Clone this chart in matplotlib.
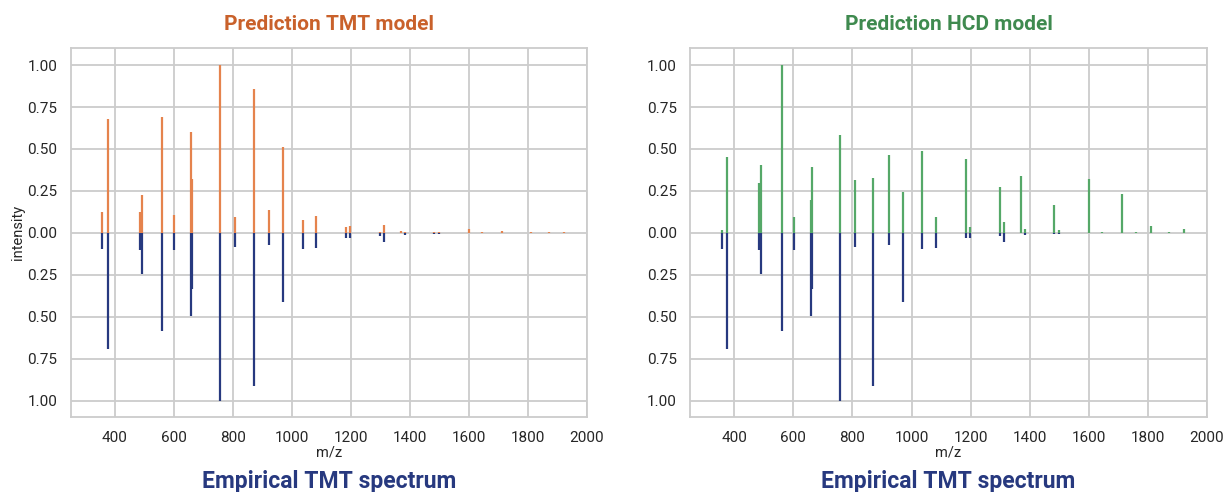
import numpy as np
import matplotlib
matplotlib.use('Agg')
import matplotlib.pyplot as plt
from matplotlib.ticker import FuncFormatter
import seaborn as sns

mz = [357, 375, 485, 490, 561, 601, 658, 662, 757, 808, 871, 923, 970, 1037, 1083,
      1184, 1198, 1298, 1312, 1369, 1383, 1483, 1498, 1599, 1645, 1711, 1760, 1810, 1873, 1923]

empirical = [0.097, 0.694, 0.100, 0.244, 0.587, 0.105, 0.498, 0.335, 1.000, 0.087, 0.913, 0.075, 0.410, 0.097, 0.093,
             0.030, 0.030, 0.020, 0.054, 0.000, 0.012, 0.008, 0.008, 0.000, 0.000, 0.000, 0.004, 0.000, 0.000, 0.000]

pred_tmt = [0.125, 0.677, 0.125, 0.228, 0.692, 0.107, 0.599, 0.321, 1.000, 0.097, 0.855, 0.135, 0.510, 0.075, 0.103,
            0.032, 0.040, 0.006, 0.046, 0.010, 0.004, 0.003, 0.003, 0.020, 0.003, 0.008, 0.000, 0.004, 0.003, 0.003]

pred_hcd = [0.016, 0.454, 0.296, 0.405, 1.000, 0.097, 0.196, 0.391, 0.585, 0.317, 0.329, 0.462, 0.242, 0.488, 0.093,
            0.438, 0.032, 0.274, 0.062, 0.341, 0.024, 0.163, 0.016, 0.323, 0.003, 0.234, 0.003, 0.038, 0.003, 0.024]

sns.set_style('whitegrid')
plt.rcParams['font.family'] = ['Roboto', 'DejaVu Sans']

navy = '#27397f'
panels = [
    ('Prediction TMT model', pred_tmt, '#e5834d', '#c9612b', [0.0578, 0.1518, 0.4216, 0.75]),
    ('Prediction HCD model', pred_hcd, '#55a868', '#3f8a4f', [0.5637, 0.1518, 0.4224, 0.75]),
]

fig = plt.figure(figsize=(12.24, 4.92), dpi=100)
mz_arr = np.array(mz)

for i, (title, pred, bar_col, title_col, pos) in enumerate(panels):
    ax = fig.add_axes(pos)
    # predicted peaks up, empirical peaks mirrored down
    ax.vlines(mz_arr, 0, pred, color=bar_col, linewidth=1.6, zorder=3)
    ax.vlines(mz_arr, 0, -np.array(empirical), color=navy, linewidth=1.6, zorder=3)
    ax.set_xlim(250, 2000)
    ax.set_ylim(-1.1, 1.1)
    ax.set_xticks(np.arange(400, 2001, 200))
    ax.set_yticks([-1, -0.75, -0.5, -0.25, 0, 0.25, 0.5, 0.75, 1])
    ax.yaxis.set_major_formatter(FuncFormatter(lambda v, p: '%.2f' % abs(v)))
    ax.tick_params(labelsize=11, pad=6)
    ax.grid(True, color='#cccccc', linewidth=1.3)
    for s in ax.spines.values():
        s.set_color('#cccccc')
        s.set_linewidth(1.3)
    ax.set_xlabel('m/z', fontsize=10.5, labelpad=1)
    if i == 0:
        ax.set_ylabel('intensity', fontsize=10.5, labelpad=2)
    ax.set_title(title, color=title_col, fontsize=15, fontweight='bold', pad=13)
    xc = pos[0] + pos[2] / 2
    fig.text(xc, 0.008, 'Empirical TMT spectrum', ha='center', va='baseline',
             color=navy, fontsize=16.5, fontweight='bold')

fig.savefig('out.png', dpi=100)
